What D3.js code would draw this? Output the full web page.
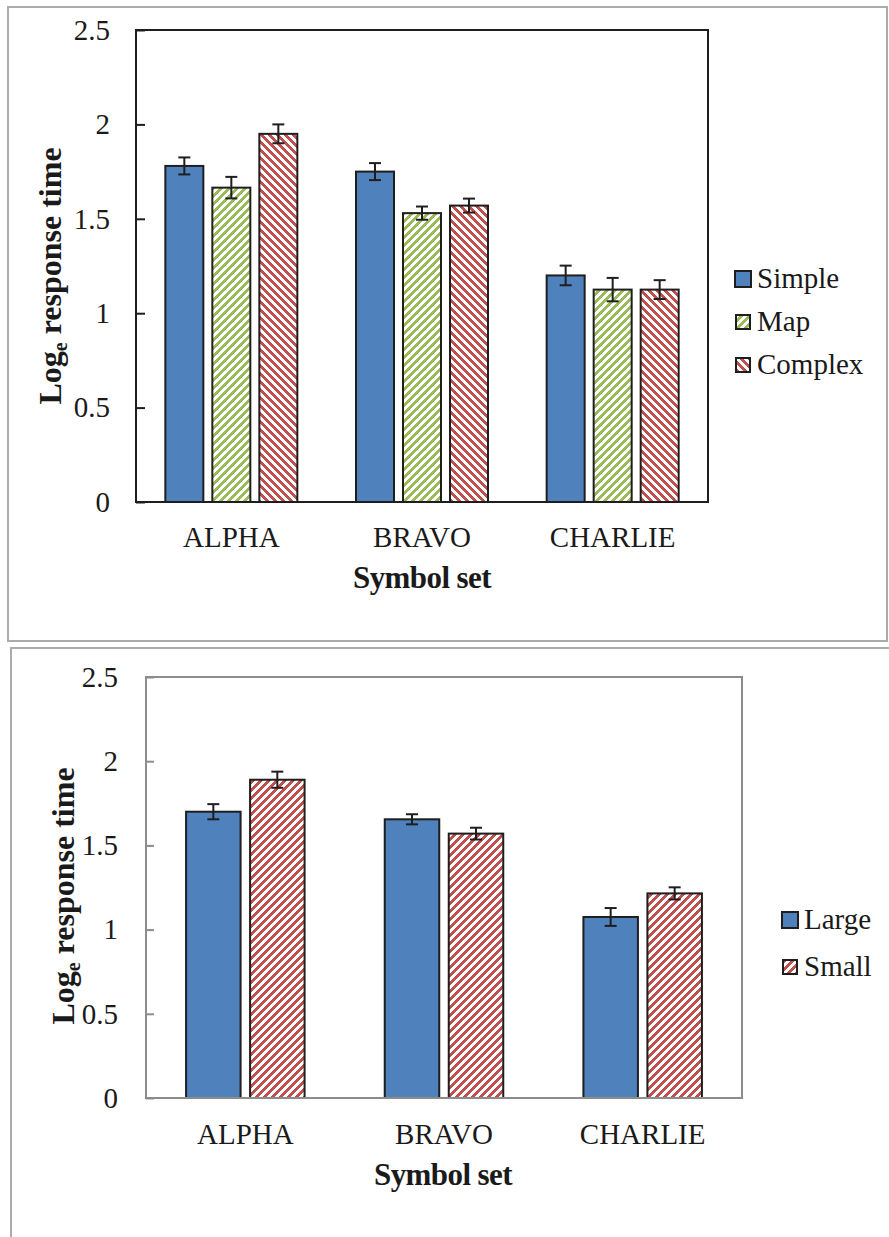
<!DOCTYPE html>
<html>
<head>
<meta charset="utf-8">
<script src="https://cdn.jsdelivr.net/npm/d3@7"></script>
<style>
  html, body { margin: 0; padding: 0; background: #fff; }
  svg { display: block; }
  text { font-family: "Liberation Serif", "Times New Roman", serif; fill: #1a1a1a; }
</style>
</head>
<body>
<svg id="chart" width="889" height="1237"></svg>
<script>
// ---- data ----
const categories = ["ALPHA", "BRAVO", "CHARLIE"];
const yTicks = [0, 0.5, 1, 1.5, 2, 2.5];
const yTickLabels = ["0", "0.5", "1", "1.5", "2", "2.5"];

// upper chart: symbol complexity
const complexitySeries = ["Simple", "Map", "Complex"];
const simpleMean = [1.78, 1.75, 1.20];
const simpleErr = [0.045, 0.045, 0.052];
const mapMean = [1.665, 1.53, 1.125];
const mapErr = [0.057, 0.035, 0.062];
const complexMean = [1.95, 1.57, 1.125];
const complexErr = [0.05, 0.037, 0.05];

// lower chart: symbol size
const sizeSeries = ["Large", "Small"];
const largeMean = [1.70, 1.655, 1.075];
const largeErr = [0.045, 0.03, 0.053];
const smallMean = [1.89, 1.57, 1.215];
const smallErr = [0.048, 0.035, 0.036];

const svg = d3.select("#chart");
const FONT = '"Liberation Serif", "Times New Roman", serif';

// ---- fill patterns (pixel staircase diagonals) ----
const defs = svg.append("defs");
function diagPattern(id, color, upward) {
  const p = defs.append("pattern")
    .attr("id", id).attr("width", 8).attr("height", 8)
    .attr("patternUnits", "userSpaceOnUse");
  p.append("rect").attr("width", 8).attr("height", 8).attr("fill", "#fff");
  for (let i = 0; i < 8; i++) {
    for (let k = 0; k < 4; k++) {
      const row = upward ? (7 - i + k + 8) % 8 : (i + k) % 8;
      p.append("rect").attr("x", i).attr("y", row)
        .attr("width", 1).attr("height", 1)
        .attr("fill", color).attr("shape-rendering", "crispEdges");
    }
  }
}
diagPattern("greenUp", "#9BBB59", true);
diagPattern("redDown", "#C0504D", false);
diagPattern("redUp", "#C0504D", true);

// ---- panel frames ----
svg.append("path")
  .attr("d", "M8,641 L8,7 L887,7 L887,641 Z")
  .attr("fill", "none").attr("stroke", "#ababab").attr("stroke-width", 2);
svg.append("path")
  .attr("d", "M11,1237 L11,648 L889,648")
  .attr("fill", "none").attr("stroke", "#ababab").attr("stroke-width", 2);

// ---- generic grouped bar chart ----
function drawChart(cfg) {
  const g = svg.append("g");
  const y = d3.scaleLinear().domain([0, 2.5]).range([cfg.bottom, cfg.top]);
  const x0 = d3.scaleBand().domain(categories).range([cfg.left, cfg.right]).padding(0);
  const x1 = d3.scaleBand().domain(cfg.series.map(s => s.name))
    .range([-cfg.groupWidth / 2, cfg.groupWidth / 2])
    .paddingInner(cfg.innerPad).paddingOuter(0);

  // y axis (inward ticks)
  const yAxis = d3.axisLeft(y)
    .tickValues(yTicks)
    .tickFormat((d, i) => yTickLabels[i])
    .tickSizeInner(-cfg.tickLen).tickSizeOuter(0)
    .tickPadding(cfg.tickPad);
  const ya = g.append("g").attr("transform", `translate(${cfg.left},0)`).call(yAxis);
  ya.select(".domain").remove();
  ya.selectAll("line").attr("stroke", cfg.axisColor).attr("stroke-width", 2);
  ya.selectAll("text").attr("font-family", FONT).attr("font-size", 29).attr("fill", "#1a1a1a");

  // bars
  cfg.series.forEach(s => {
    const sg = g.append("g");
    categories.forEach((c, i) => {
      const cx = x0(c) + x0.bandwidth() / 2 + x1(s.name);
      sg.append("rect")
        .attr("x", cx).attr("y", y(s.mean[i]))
        .attr("width", x1.bandwidth()).attr("height", y(0) - y(s.mean[i]))
        .attr("fill", s.fill).attr("stroke", "#1e1e1e").attr("stroke-width", 2);
    });
  });

  // error bars
  cfg.series.forEach(s => {
    categories.forEach((c, i) => {
      const mx = x0(c) + x0.bandwidth() / 2 + x1(s.name) + x1.bandwidth() / 2;
      const hi = y(s.mean[i] + s.err[i]);
      const lo = y(s.mean[i] - s.err[i]);
      const eg = g.append("g").attr("stroke", "#1e1e1e").attr("stroke-width", 2);
      eg.append("line").attr("x1", mx).attr("x2", mx).attr("y1", hi).attr("y2", lo);
      eg.append("line").attr("x1", mx - 6).attr("x2", mx + 6).attr("y1", hi).attr("y2", hi);
      eg.append("line").attr("x1", mx - 6).attr("x2", mx + 6).attr("y1", lo).attr("y2", lo);
    });
  });

  // plot frame
  g.append("rect")
    .attr("x", cfg.left).attr("y", cfg.top)
    .attr("width", cfg.right - cfg.left).attr("height", cfg.bottom - cfg.top)
    .attr("fill", "none").attr("stroke", cfg.axisColor).attr("stroke-width", 2);

  // x axis labels
  const xAxis = d3.axisBottom(x0).tickSize(0).tickPadding(cfg.xPad);
  const xa = g.append("g").attr("transform", `translate(0,${cfg.bottom})`).call(xAxis);
  xa.select(".domain").remove();
  xa.selectAll("text").attr("font-family", FONT).attr("font-size", 29).attr("fill", "#1a1a1a");

  // axis titles
  g.append("text")
    .attr("x", cfg.xTitle[0]).attr("y", cfg.xTitle[1])
    .attr("text-anchor", "middle").attr("font-weight", "bold")
    .attr("font-size", 31).attr("letter-spacing", -0.6)
    .text("Symbol set");

  const yt = g.append("text")
    .attr("transform", `translate(${cfg.yTitle[0]},${cfg.yTitle[1]}) rotate(-90)`)
    .attr("text-anchor", "middle").attr("font-weight", "bold").attr("font-size", 32);
  yt.append("tspan").text("Log");
  yt.append("tspan").attr("font-size", 20).attr("dy", 6).text("e");
  yt.append("tspan").attr("dy", -6).text(" response time");

  // legend
  const lg = g.append("g");
  cfg.series.forEach((s, i) => {
    const ly = cfg.legend[1] + i * cfg.legendStep;
    const sz = i === 0 ? 16 : 14;
    lg.append("rect")
      .attr("x", cfg.legend[0] + (16 - sz) / 2).attr("y", ly - 17 + (16 - sz) / 2)
      .attr("width", sz).attr("height", sz)
      .attr("fill", s.fill).attr("stroke", "#1e1e1e").attr("stroke-width", 2);
    lg.append("text")
      .attr("x", cfg.legend[0] + 22).attr("y", ly)
      .attr("font-size", 29).text(s.name);
  });
}

drawChart({
  left: 136, right: 708, top: 30, bottom: 502,
  groupWidth: 132, innerPad: 9 / 47,
  axisColor: "#1e1e1e", tickLen: 9, tickPad: 26, xPad: 24,
  xTitle: [422, 588], yTitle: [61, 276],
  legend: [735, 288], legendStep: 43,
  series: [
    { name: complexitySeries[0], mean: simpleMean, err: simpleErr, fill: "#4F81BD" },
    { name: complexitySeries[1], mean: mapMean, err: mapErr, fill: "url(#greenUp)" },
    { name: complexitySeries[2], mean: complexMean, err: complexErr, fill: "url(#redDown)" }
  ]
});

drawChart({
  left: 146, right: 742, top: 677, bottom: 1098,
  groupWidth: 118.5, innerPad: 9.5 / 64,
  axisColor: "#8c8c8c", tickLen: 8, tickPad: 28, xPad: 25,
  xTitle: [443, 1185], yTitle: [74, 896],
  legend: [782, 929], legendStep: 47,
  series: [
    { name: sizeSeries[0], mean: largeMean, err: largeErr, fill: "#4F81BD" },
    { name: sizeSeries[1], mean: smallMean, err: smallErr, fill: "url(#redUp)" }
  ]
});
</script>
</body>
</html>
